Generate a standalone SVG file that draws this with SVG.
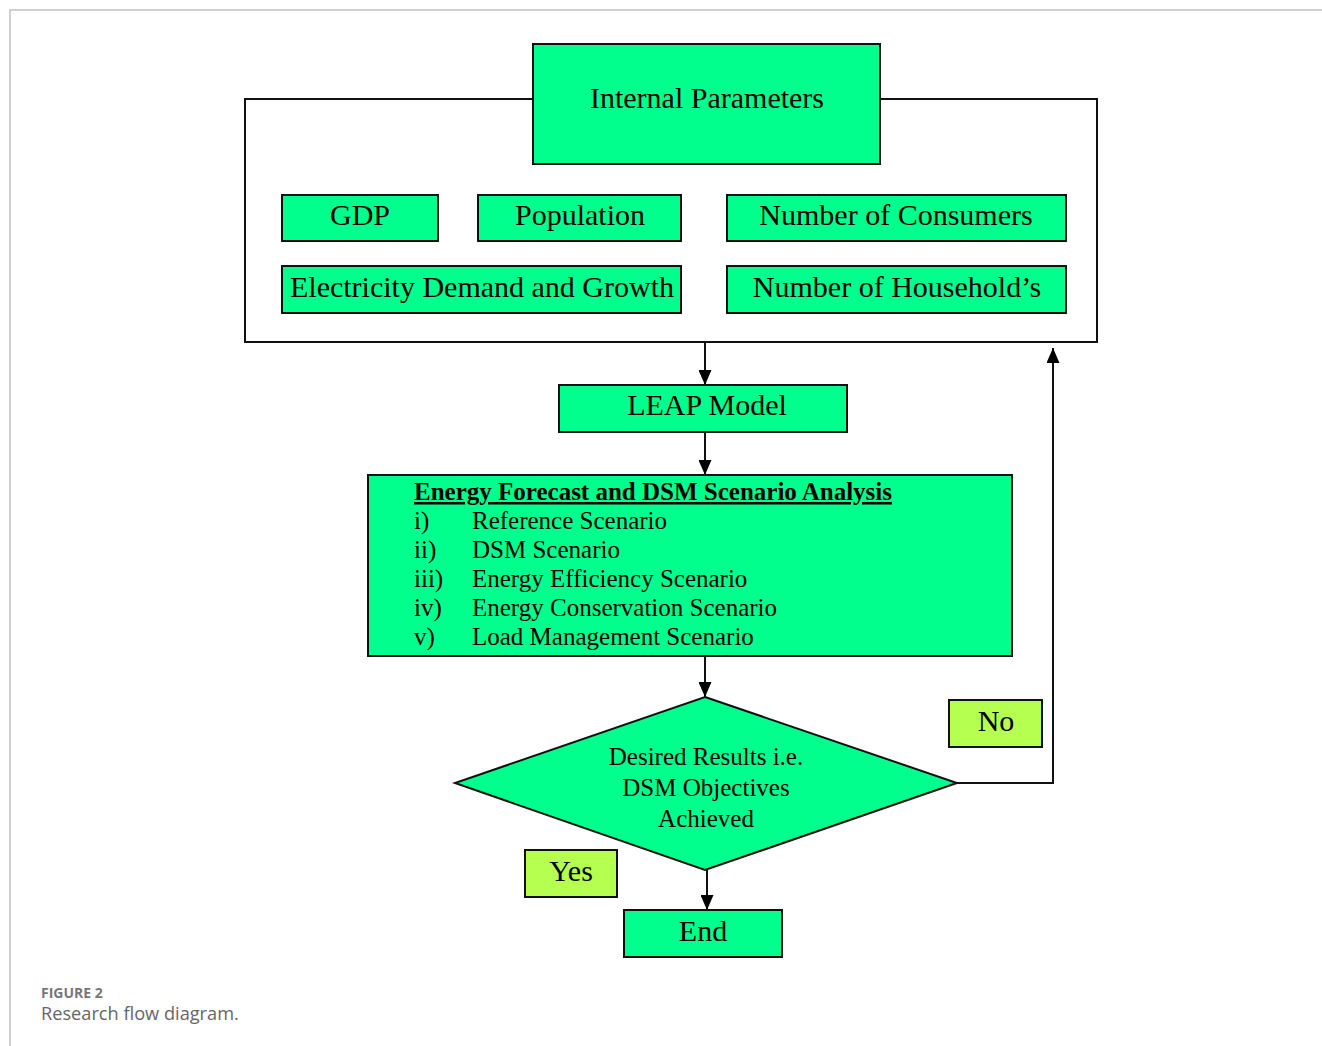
<svg xmlns="http://www.w3.org/2000/svg" width="1322" height="1046" viewBox="0 0 1322 1046">
<defs>
<style>
.g{fill:#00FF8C;stroke:#111;stroke-width:2}
.y{fill:#B4FF50;stroke:#111;stroke-width:2}
.t{font-family:"Liberation Serif","Times New Roman",serif;font-size:30px;fill:#000;text-anchor:middle}
.s{font-family:"Liberation Serif","Times New Roman",serif;font-size:25px;fill:#000}
.c{fill:none;stroke:#111;stroke-width:2}
</style>
<marker id="ah" viewBox="0 0 15 13" refX="15" refY="6.5" markerWidth="15" markerHeight="13" orient="auto" markerUnits="userSpaceOnUse">
<path d="M0,0 L15,6.5 L0,13 Z" fill="#000"/>
</marker>
</defs>
<rect width="1322" height="1046" fill="#fff"/>
<path d="M10,1046 V10 H1322" fill="none" stroke="#d0d0d0" stroke-width="2"/>

<g id="frame"><rect x="245" y="99" width="852" height="243" fill="none" stroke="#111" stroke-width="2"/></g>
<g id="internal"><rect class="g" x="533" y="44" width="347" height="120"/><text class="t" x="707" y="108">Internal Parameters</text></g>
<g id="gdp"><rect class="g" x="282" y="195" width="156" height="46"/><text class="t" x="360" y="225">GDP</text></g>
<g id="population"><rect class="g" x="478" y="195" width="203" height="46"/><text class="t" x="580" y="225">Population</text></g>
<g id="consumers"><rect class="g" x="727" y="195" width="339" height="46"/><text class="t" x="896" y="225">Number of Consumers</text></g>
<g id="demand"><rect class="g" x="282" y="266" width="399" height="47"/><text class="t" x="482" y="297">Electricity Demand and Growth</text></g>
<g id="households"><rect class="g" x="727" y="266" width="339" height="47"/><text class="t" x="897" y="297">Number of Household’s</text></g>
<g id="leap"><rect class="g" x="559" y="385" width="288" height="47"/><text class="t" x="707" y="415">LEAP Model</text></g>
<g id="analysis"><rect class="g" x="368" y="475" width="644" height="181"/>
<text class="s" x="414" y="500" font-weight="bold" text-decoration="underline">Energy Forecast and DSM Scenario Analysis</text>
<text class="s" x="414" y="529">i)</text><text class="s" x="472" y="529">Reference Scenario</text>
<text class="s" x="414" y="558">ii)</text><text class="s" x="472" y="558">DSM Scenario</text>
<text class="s" x="414" y="587">iii)</text><text class="s" x="472" y="587">Energy Efficiency Scenario</text>
<text class="s" x="414" y="616">iv)</text><text class="s" x="472" y="616">Energy Conservation Scenario</text>
<text class="s" x="414" y="645">v)</text><text class="s" x="472" y="645">Load Management Scenario</text>
</g>
<g id="decision"><polygon class="g" points="705,697 957,783 705,870 455,783"/>
<text class="s" x="706" y="765" text-anchor="middle">Desired Results i.e.</text>
<text class="s" x="706" y="796" text-anchor="middle">DSM Objectives</text>
<text class="s" x="706" y="827" text-anchor="middle">Achieved</text>
</g>
<g id="no"><rect class="y" x="949" y="700" width="93" height="47"/><text class="t" x="996" y="731">No</text></g>
<g id="yes"><rect class="y" x="525" y="850" width="92" height="47"/><text class="t" x="571" y="881">Yes</text></g>
<g id="end"><rect class="g" x="624" y="910" width="158" height="47"/><text class="t" x="703" y="941">End</text></g>

<g id="connectors">
<line class="c" x1="705" y1="342" x2="705" y2="385" marker-end="url(#ah)"/>
<line class="c" x1="705" y1="432" x2="705" y2="475" marker-end="url(#ah)"/>
<line class="c" x1="705" y1="656" x2="705" y2="697" marker-end="url(#ah)"/>
<line class="c" x1="707" y1="870" x2="707" y2="910" marker-end="url(#ah)"/>
<polyline class="c" points="957,783 1053,783 1053,348" marker-end="url(#ah)"/>
</g>

<g id="caption">
<text x="41" y="998" font-family="'Open Sans',Lato,sans-serif" font-size="14px" font-weight="bold" fill="#777">FIGURE 2</text>
<text x="41" y="1020" font-family="'Open Sans',Lato,sans-serif" font-size="18.2px" fill="#666">Research flow diagram.</text>
</g>
</svg>
